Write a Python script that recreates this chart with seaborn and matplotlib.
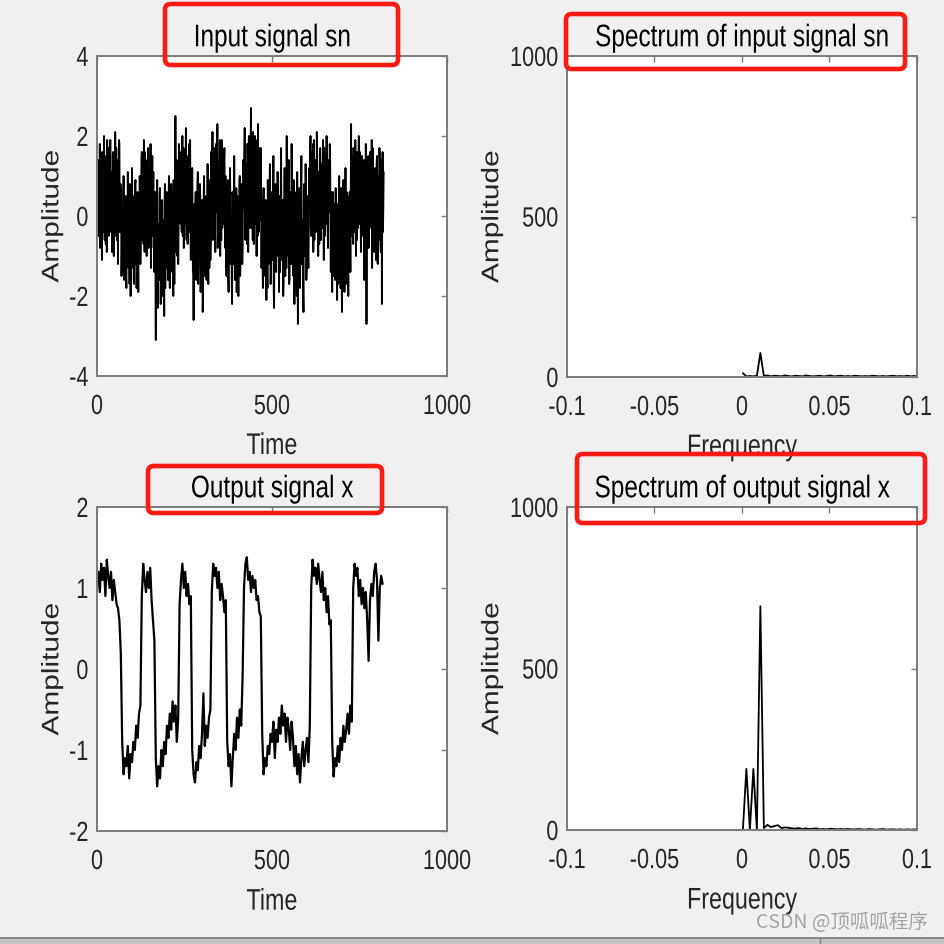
import numpy as np
import pandas as pd
import matplotlib
matplotlib.use("Agg")
import matplotlib.pyplot as plt
import seaborn as sns
from matplotlib.patches import FancyBboxPatch, Rectangle
from matplotlib.lines import Line2D
from matplotlib.patheffects import AbstractPathEffect
from matplotlib.transforms import Affine2D

# ---------------- data ----------------
# input signal sn, even samples t = 0, 2, ..., 818
sn_even = [
    0.4, 1.3, -0.5, 0.9, 1.8, -0.2, 0.6, -1.1, 1.5, 0.1, 2.0, -0.6, 0.8, 1.2, -0.9, 0.3, 1.7, -0.3, 0.5, 1.9,
    -0.4, 1.1, 0.2, 1.6, -1.0, 0.7, 2.1, -0.5, 0.9, 1.4, -1.2, 0.4, 1.8, -0.2, 0.6, -1.5, 0.2, -0.8, 1.0, -1.6,
    -0.9, 0.5, -1.8, -0.2, 1.1, -1.3, -0.6, 0.8, -2.0, -0.4, 1.2, -1.1, 0.3, -1.7, -0.8, 0.9, -0.3, -1.4, 0.6, -1.9,
    -0.7, 1.0, -1.2, 0.8, 1.6, -0.6, 0.4, 1.9, -0.9, 0.7, 1.3, -1.0, 0.2, 1.7, -0.5, 1.1, 0.3, -1.3, 0.9, 1.5,
    0.2, -0.8, -1.4, 0.6, -3.1, -0.5, 0.9, -1.9, -0.2, -1.2, 0.7, -2.2, -0.6, 0.4, -1.7, -0.1, -2.5, 0.8, -1.0, -0.4,
    -1.3, 0.5, -0.7, 1.0, -1.8, -0.3, 0.8, -1.1, 0.2, -2.0, -0.5, 0.6, 2.5, -0.9, 1.4, 0.1, -1.2, 1.8, 0.4, 1.2,
    1.6, -0.4, 2.0, 0.5, -0.8, 1.3, 0.2, 2.2, -0.6, 0.9, 1.5, -0.3, 0.7, 1.9, -1.1, 0.4, 1.2, -1.4, -2.6, 0.3,
    -1.0, 0.6, -1.6, -0.2, 1.1, -1.3, -0.5, 0.8, -1.9, -0.7, 0.4, -2.4, -0.3, 1.0, -1.5, -0.8, 0.5, -1.2, 1.3, -1.7,
    -0.6, 0.9, -1.1, 1.6, 0.3, 2.1, -0.4, 1.2, 0.6, -0.9, 1.8, 0.1, 2.3, -0.2, 0.8, 1.4, -1.0, 0.5, 1.9, -0.3,
    1.1, 0.2, 1.7, -0.8, 0.4, -1.5, -0.3, 0.9, -1.9, -0.6, 1.2, -1.2, -0.1, -2.2, 0.5, -0.9, 1.5, -1.6, -0.4, 0.7,
    -1.4, 0.3, -2.0, -0.5, 1.0, -1.1, -0.2, 0.8, -0.7, 1.4, 0.2, 2.2, -0.6, 1.1, 0.4, 1.8, -0.9, 2.0, 0.6, 1.3,
    2.7, -0.3, 0.9, 2.1, -0.7, 1.5, 0.1, 1.9, -1.0, 0.6, 2.3, -0.4, 1.2, 0.3, 1.7, -1.3, -0.2, -1.8, 0.7, -0.9,
    -1.5, 0.4, -2.1, -0.6, 0.9, -1.2, -0.1, 1.3, -1.7, -0.5, 0.6, -1.0, 1.5, -2.3, -0.3, 0.8, -1.4, 0.2, 1.1, -0.8,
    -1.9, 0.5, -0.4, 1.7, -1.1, 0.1, -2.0, -0.7, 1.2, -1.5, 0.3, 2.0, -0.9, -0.2, 1.4, -1.6, 0.6, -0.5, 1.8, -1.2,
    -0.3, 0.9, -2.2, -0.8, 0.4, -1.4, 1.1, -2.7, -0.6, 0.7, -1.8, 0.2, 1.5, -1.0, -0.1, -2.4, 0.8, -0.5, 1.3, -1.6,
    -0.7, 0.5, -1.3, 1.2, 0.3, 2.0, -0.5, 1.6, 0.8, -0.9, 1.9, 0.2, 1.4, -0.4, 2.1, 0.6, -1.0, 1.1, 0.0, 1.7,
    -0.6, 1.3, 0.4, 1.9, -1.1, 0.8, 1.5, -0.2, 2.0, 0.5, -0.8, 1.0, 0.1, 1.6, -1.4, -0.3, -1.9, 0.6, -1.0, -0.4,
    -1.6, 0.7, -0.9, -2.1, 0.3, -1.3, 1.0, -0.5, -1.8, 0.4, -2.4, -0.2, 0.9, -1.1, -0.6, 1.2, -1.7, -0.3, 0.5, -2.0,
    -0.8, 0.6, -1.4, 2.3, 0.1, 1.5, -0.7, 1.1, 0.4, 1.9, -1.0, 0.7, 1.6, -0.3, 2.0, 0.2, 1.2, -0.9, 0.8, 1.4,
    -0.4, 1.0, -1.6, 0.5, 1.8, -2.7, 0.3, 1.3, -0.8, 0.9, 1.6, -0.2, 0.6, -1.3, 1.7, 0.1, -0.9, 1.2, 0.4, -0.6,
    1.5, -1.2, 0.8, -0.3, 1.3, -0.7, 0.9, -2.2, 1.6, 0.2,
]
# input signal sn, odd samples t = 1, 3, ..., 819
sn_odd = [
    1.0, -0.3, 1.4, 0.2, -0.8, 1.1, 0.5, 1.6, -0.4, 0.9, 0.3, 1.5, -0.7, 0.6, 1.9, 0.0, -0.5, 1.2, 0.8, -0.2,
    0.7, -0.9, 1.5, 0.3, 1.2, -0.3, 0.5, 1.7, -0.6, 0.2, 1.0, 1.9, -0.4, 0.8, 0.1, -0.9, -1.4, 0.4, -1.1, 0.3,
    0.4, -1.5, 0.1, -1.0, -0.5, 0.7, -1.7, 0.2, -0.9, -1.3, -0.2, 0.5, -1.6, -0.4, 0.8, -1.2, -1.8, 0.3, -0.7, 0.1,
    -1.1, 0.4, -0.3, 1.3, 0.2, 1.1, -0.7, 0.9, 1.6, 0.3, -0.4, 1.4, 0.7, -0.8, 1.2, 0.5, 1.8, 0.0, 0.6, -0.5,
    1.1, 0.5, -0.2, -1.5, 0.3, -1.0, -2.3, -0.4, -1.6, 0.5, -0.9, -1.3, 0.2, -2.0, -0.7, -1.1, 0.3, -1.8, -0.5, 0.6,
    -0.4, -1.6, 0.7, -0.9, -0.1, -1.4, 0.4, -0.6, -1.2, 0.9, -1.7, -0.2, 1.0, -0.5, -1.0, 0.6, -0.3, 0.9, 1.4, -0.2,
    0.6, 1.2, -0.5, 1.7, 0.4, -0.2, 1.1, 0.8, 1.4, -0.7, 0.3, 1.8, -0.4, 0.6, 1.0, -0.8, 0.1, -1.0, -0.3, -1.6,
    0.2, -1.2, -0.6, 0.7, -1.7, -0.2, -1.0, 0.5, -1.4, 0.1, -0.8, -1.9, 0.6, -0.5, -1.1, 0.3, -1.6, -0.4, -0.9, 0.8,
    -1.3, 0.2, -0.5, 0.4, 1.3, -0.6, 1.0, 1.7, -0.3, 0.8, 0.3, 1.5, -0.8, 1.1, 0.5, 1.9, 0.2, -0.6, 1.3, 0.7,
    -0.2, 1.4, 0.6, 1.0, -1.0, -0.3, 0.6, -1.6, -0.5, -1.1, 0.3, -0.8, -1.7, 0.6, -1.2, -0.4, 0.2, -1.3, -0.8, -1.9,
    0.5, -1.0, -0.3, 0.9, -1.5, -0.6, 0.4, -1.2, 0.3, 0.8, 1.5, -0.4, 1.3, 0.6, -0.7, 1.0, 1.6, 0.2, -0.3, 1.9,
    0.4, 1.6, -0.6, 1.1, 0.7, 2.0, -0.2, 0.8, 1.3, -0.5, 0.9, 1.7, -0.1, 1.0, 0.3, -0.4, -1.1, 0.3, -1.4, -0.3,
    -0.6, -1.2, 0.3, -1.8, -0.4, -1.0, 0.8, -0.7, -1.4, 0.1, -1.1, -0.5, -1.9, 0.6, -0.9, -1.3, 0.4, -0.6, -1.0, 0.2,
    -0.8, -1.4, 0.8, -0.5, -1.1, 0.4, -1.6, -0.2, -0.9, 0.6, -1.3, -0.6, 0.5, -1.0, -1.7, 0.2, -0.4, -1.2, 0.7, -0.7,
    -1.5, 0.3, -0.6, -1.3, 0.6, -2.0, -0.4, -1.1, 0.2, -1.6, -0.7, 0.9, -1.2, -0.3, -1.9, 0.4, -1.0, -0.5, 0.5, -1.4,
    0.3, -1.0, -0.4, 0.7, 1.4, -0.3, 1.1, 0.5, 1.8, 0.2, -0.6, 1.3, 0.8, -0.2, 1.5, 0.4, 1.0, -0.7, 1.6, 0.6,
    0.9, -0.3, 1.2, 0.6, 1.7, -0.5, 0.3, 1.1, 0.7, -0.4, 1.4, 0.2, 1.8, -0.1, 0.6, -1.1, -0.4, -1.5, 0.3, -1.2,
    -0.5, -1.4, 0.2, -0.8, -1.7, 0.5, -1.0, -0.3, 0.7, -1.5, -0.6, -1.1, 0.3, -1.9, -0.2, -0.9, 0.6, -1.3, -0.7, 0.1,
    -1.2, -0.4, 0.4, -0.5, 1.2, 0.6, 1.7, -0.4, 0.9, 1.3, 0.2, -0.6, 1.1, 0.5, -0.2, 1.6, 0.8, 0.3, 1.5, -0.5,
    0.7, 1.4, 0.2, -0.9, 1.0, 0.4, -0.6, 1.5, 0.3, -0.3, 1.2, 0.8, 1.9, -0.5, 0.6, 1.1, -0.2, 0.7, -1.1, 1.3,
    0.5, 1.0, -0.6, 1.7, 0.2, -0.9, 1.4, 0.4, -0.4, 1.1,
]

# output signal x, one value every 4 time units (t = 0 .. 816)
x_values = [
    1.05, 1.2, 0.95, 1.3, 1.1, 1.25, 0.9, 1.35, 1.15, 1.0, 1.2, 0.85, 1.1, 0.95, 0.8, 0.75, 0.6, 0.2,
    -0.9, -1.3, -1.1, -1.2, -0.95, -1.35, -1.05, -1.15, -0.9, -1.0, -0.7, -0.85, -0.55, -0.45,
    0.9, 1.3, 1.1, 0.95, 1.2, 1.0, 1.25, 0.85, 0.6, 0.35,
    -1.1, -1.45, -1.2, -1.35, -1.0, -1.2, -0.9, -1.05, -0.7, -0.85, -0.55, -0.75, -0.4, -0.65, -0.45, -0.9, -0.6,
    0.8, 1.1, 1.3, 1.0, 1.2, 0.9, 1.05, 0.8, 0.9,
    -1.0, -1.3, -1.4, -1.15, -1.25, -0.95, -1.1, -0.8, -0.3, -0.95, -0.7, -0.85, -0.6, -0.5,
    0.95, 1.3, 1.15, 1.25, 1.0, 1.2, 0.85, 1.05, 0.9, 0.7, 0.85,
    -0.9, -1.2, -1.05, -1.45, -1.1, -0.8, -1.0, -0.6, -0.85, -0.5, -0.7, -0.1,
    1.0, 1.3, 1.38, 1.1, 1.2, 0.95, 1.15, 1.0, 1.1, 0.85, 0.9, 0.7, 0.65,
    -0.8, -1.3, -1.1, -1.2, -0.95, -1.05, -0.8, -0.9, -0.65, -1.1, -0.75, -0.9, -0.6, -0.8, -0.45, -0.7,
    -0.55, -0.9, -0.6, -0.75, -1.0, -0.65, -0.85, -1.2, -0.95, -1.3, -1.05, -1.4, -1.1, -0.9, -1.2, -1.0,
    -0.85, -1.15, -0.7,
    1.0, 1.35, 1.15, 1.25, 1.05, 1.3, 1.1, 0.95, 1.2, 0.85, 1.0, 0.7, 0.9, 0.55, 0.6,
    -0.9, -1.33, -1.1, -1.2, -0.95, -1.15, -0.85, -1.0, -0.7, -0.9, -0.75, -0.55, -0.8, -0.45, -0.65,
    1.0, 1.3, 1.15, 1.25, 0.9, 1.1, 0.8, 1.0, 0.75, 0.95, 0.6, 0.1, 0.85, 1.05, 0.9, 1.2, 1.3, 1.1,
    0.35, 1.0, 1.15, 1.05,
]
x_step = 4

# magnitude spectra, bins 0.002 apart starting near 0
freq_step = 0.002
freq_start = 0.0005
spec_sn = [12, 2, 3, 2, 4, 75, 3, 5, 2, 4, 3, 2, 5, 3, 2, 4, 3, 2, 5, 3, 2, 3, 4, 2, 3, 5,
           2, 3, 4, 2, 3, 2, 4, 3, 2, 3, 2, 4, 3, 2, 3, 2, 3, 4, 2, 3, 2, 4, 2, 3, 2]
spec_x = [0, 189, 0, 189, 0, 693, 6, 16, 9, 12, 15, 6, 8, 7, 5, 4, 6, 3, 5, 3, 4, 5, 2, 3, 2, 4,
          3, 2, 3, 2, 3, 2, 2, 3, 2, 1, 3, 2, 1, 2, 3, 1, 2, 2, 1, 2, 1, 2, 1, 2, 1]

titles = ["Input signal sn", "Spectrum of input signal sn",
          "Output signal x", "Spectrum of output signal x"]
xlabels = ["Time", "Frequency", "Time", "Frequency"]
ylabel = "Amplitude"
time_ticks = [0, 500, 1000]
time_ticklabels = ["0", "500", "1000"]
freq_ticks = [-0.1, -0.05, 0, 0.05, 0.1]
freq_ticklabels = ["-0.1", "-0.05", "0", "0.05", "0.1"]
spec_ticks = [0, 500, 1000]
spec_ticklabels = ["0", "500", "1000"]
sn_ticks = [-4, -2, 0, 2, 4]
sn_ticklabels = ["-4", "-2", "0", "2", "4"]
x_ticks = [-2, -1, 0, 1, 2]
x_ticklabels = ["-2", "-1", "0", "1", "2"]
watermark = "CSDN @顶呱呱程序"


# the screenshot is stretched vertically: squeeze glyphs to mimic it
class Squeeze(AbstractPathEffect):
    def __init__(self, sx=1.0, sy=1.0, anchor="center"):
        super().__init__()
        self.sx, self.sy, self.anchor = sx, sy, anchor

    def draw_path(self, renderer, gc, tpath, affine, rgbFace=None):
        ext = tpath.get_extents()
        if self.anchor == "right":
            cx = ext.x1
        elif self.anchor == "left":
            cx = ext.x0
        else:
            cx = 0.5 * (ext.x0 + ext.x1)
        cy = 0.5 * (ext.y0 + ext.y1)
        t = Affine2D().translate(-cx, -cy).scale(self.sx, self.sy).translate(cx, cy)
        renderer.draw_path(gc, tpath, t + affine, rgbFace)


SX = 0.78

# ---------------- figure ----------------
sns.set_style("white")
plt.rcParams["font.family"] = ["Liberation Sans", "DejaVu Sans"]
plt.rcParams["axes.unicode_minus"] = False

W = H = 945
BG = "#f0f0f0"
FRAME = "#7a7a7a"
TXT = "#262626"
fig = plt.figure(figsize=(9.45, 9.45), dpi=100, facecolor=BG)


def rect(l, t, r, b):
    return [l / W, 1 - b / H, (r - l) / W, (b - t) / H]


ax_sn = fig.add_axes(rect(97, 57, 447, 377))
ax_ssn = fig.add_axes(rect(567, 57, 917, 378))
ax_x = fig.add_axes(rect(97, 508, 447, 832))
ax_sx = fig.add_axes(rect(567, 508, 917, 831))

sn_all = np.empty(len(sn_even) + len(sn_odd))
sn_all[0::2] = sn_even
sn_all[1::2] = sn_odd
df_sn = pd.DataFrame({"t": np.arange(len(sn_all)), "v": sn_all})
df_x = pd.DataFrame({"t": np.arange(len(x_values)) * x_step, "v": x_values})
df_ssn = pd.DataFrame({"f": freq_start + np.arange(len(spec_sn)) * freq_step, "v": spec_sn})
df_sx = pd.DataFrame({"f": freq_start + np.arange(len(spec_x)) * freq_step, "v": spec_x})

sns.lineplot(data=df_sn, x="t", y="v", ax=ax_sn, color="black", linewidth=1.35, estimator=None)
sns.lineplot(data=df_x, x="t", y="v", ax=ax_x, color="black", linewidth=1.6, estimator=None)
sns.lineplot(data=df_ssn, x="f", y="v", ax=ax_ssn, color="black", linewidth=1.3, estimator=None)
sns.lineplot(data=df_sx, x="f", y="v", ax=ax_sx, color="black", linewidth=1.3, estimator=None)

setup = [
    (ax_sn, (0, 1000), time_ticks, time_ticklabels, (-4, 4), sn_ticks, sn_ticklabels, -0.089),
    (ax_ssn, (-0.1, 0.1), freq_ticks, freq_ticklabels, (0, 1000), spec_ticks, spec_ticklabels, -0.175),
    (ax_x, (0, 1000), time_ticks, time_ticklabels, (-2, 2), x_ticks, x_ticklabels, -0.089),
    (ax_sx, (-0.1, 0.1), freq_ticks, freq_ticklabels, (0, 1000), spec_ticks, spec_ticklabels, -0.175),
]
for i, (ax, xl, xt, xtl, yl, yt, ytl, ylab_x) in enumerate(setup):
    ax.set_facecolor("white")
    ax.set_xlim(*xl)
    ax.set_ylim(*yl)
    ax.set_xticks(xt)
    ax.set_xticklabels(xtl)
    ax.set_yticks(yt)
    ax.set_yticklabels(ytl)
    for s in ax.spines.values():
        s.set_visible(True)
        s.set_color(FRAME)
        s.set_linewidth(1.4)
    ax.tick_params(axis="both", direction="in", top=True, right=True, length=4,
                   width=1, color=FRAME, labelsize=20, labelcolor=TXT)
    ax.tick_params(axis="x", pad=13)
    ax.tick_params(axis="y", pad=6)
    t = ax.set_title(titles[i], fontsize=22.5, color="black", pad=7)
    t.set_path_effects([Squeeze(SX, 1.0, "center")])
    xlab = ax.set_xlabel(xlabels[i], fontsize=21.5, color=TXT)
    xlab.set_path_effects([Squeeze(SX, 1.0, "center")])
    ax.xaxis.set_label_coords(0.5, -0.175)
    ylab = ax.set_ylabel(ylabel, fontsize=21.5, color=TXT)
    ylab.set_path_effects([Squeeze(1.0, 0.8, "center")])
    ax.yaxis.set_label_coords(ylab_x, 0.5)
    for tk in ax.xaxis.get_major_ticks():
        tk.label1.set_path_effects([Squeeze(SX, 1.0, "center")])
    for tk in ax.yaxis.get_major_ticks():
        tk.label1.set_path_effects([Squeeze(SX, 1.0, "right")])

# red highlight boxes around the titles
for (l, t, r, b) in [(165, 5, 398, 66), (566, 15, 905, 70), (148, 467, 382, 514), (577, 455, 925, 524)]:
    fig.add_artist(FancyBboxPatch((l / W, 1 - b / H), (r - l) / W, (b - t) / H,
                                  boxstyle="round,pad=0,rounding_size=0.006",
                                  transform=fig.transFigure, fc="none", ec="#ff1a14",
                                  lw=3.3, zorder=10))

# bottom window edge
fig.add_artist(Rectangle((0, 0), 1, 6 / H, transform=fig.transFigure, fc="#c4c4c4", ec="none", zorder=5))
fig.add_artist(Line2D([0, 1], [6 / H, 6 / H], transform=fig.transFigure, color="#7a7a7a", lw=1.2, zorder=6))
fig.add_artist(Line2D([820 / W, 820 / W], [0, 6 / H], transform=fig.transFigure, color="#7a7a7a", lw=1.0, zorder=6))

fig.text(928 / W, 1 - 923 / H, watermark, ha="right", va="center", fontsize=14, color="#a3a3a3",
         family=["Noto Sans CJK SC", "DejaVu Sans"])

fig.savefig("out.png", dpi=100, facecolor=BG)
